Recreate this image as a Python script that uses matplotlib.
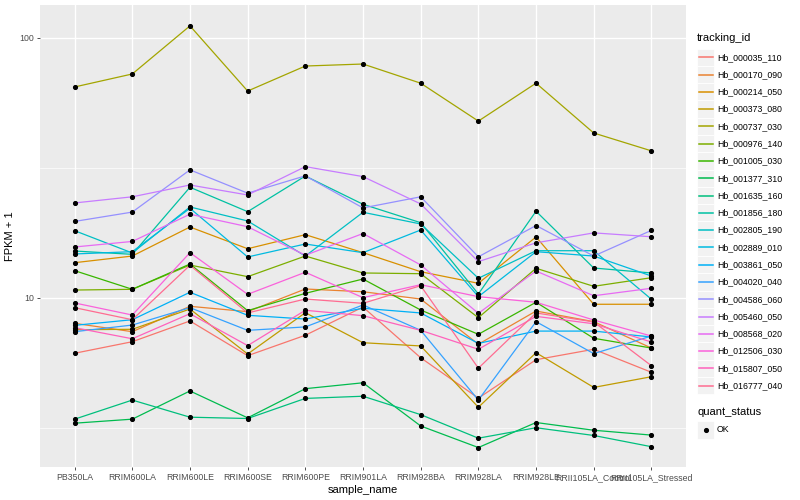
import matplotlib
matplotlib.use("Agg")
import matplotlib.pyplot as plt
from matplotlib.patches import Rectangle
from matplotlib.lines import Line2D
from matplotlib.ticker import NullFormatter

plt.rcParams['font.family'] = ['Liberation Sans', 'DejaVu Sans']

# categories on the x axis
samples = ["PB350LA", "RRIM600LA", "RRIM600LE", "RRIM600SE", "RRIM600PE",
           "RRIM901LA", "RRIM928BA", "RRIM928LA", "RRIM928LE",
           "RRII105LA_Control", "RRII105LA_Stressed"]

tracking_ids = ["Hb_000035_110", "Hb_000170_090", "Hb_000214_050", "Hb_000373_080",
                "Hb_000737_030", "Hb_000976_140", "Hb_001005_030", "Hb_001377_310",
                "Hb_001635_160", "Hb_001856_180", "Hb_002805_190", "Hb_002889_010",
                "Hb_003861_050", "Hb_004020_040", "Hb_004586_060", "Hb_005460_050",
                "Hb_008568_020", "Hb_012506_030", "Hb_015807_050", "Hb_016777_040"]

# ggplot hue palette, 20 levels
hue_colors = ["#F8766D", "#EA8331", "#D89000", "#C09B00", "#A3A500", "#7CAE00",
              "#39B600", "#00BB4E", "#00BF7D", "#00C1A3", "#00BFC4", "#00BAE0",
              "#00B0F6", "#35A2FF", "#9590FF", "#C77CFF", "#E76BF3", "#FA62DB",
              "#FF62BC", "#FF6C91"]

# FPKM + 1 per gene, one value per sample
hb_000035_110 = [6.13, 6.79, 8.16, 6.00, 7.19, 9.23, 5.89, 4.12, 5.79, 6.35, 5.18]
hb_000170_090 = [7.99, 7.42, 9.29, 8.86, 10.83, 10.57, 9.91, 6.64, 8.91, 8.11, 6.42]
hb_000214_050 = [13.67, 14.5, 18.75, 15.47, 17.52, 14.94, 12.62, 11.39, 17.17, 9.46, 9.46]
hb_000373_080 = [7.55, 7.58, 9.07, 6.09, 8.78, 6.73, 6.54, 3.80, 6.16, 4.53, 4.98]
hb_000737_030 = [64.8, 72.7, 111.3, 62.5, 78.0, 79.4, 67.0, 47.9, 67.0, 43.1, 36.8]
hb_000976_140 = [10.73, 10.80, 13.39, 12.08, 14.5, 12.48, 12.40, 8.40, 13.01, 11.09, 11.97]
hb_001005_030 = [12.74, 10.80, 13.51, 8.94, 10.42, 11.83, 8.99, 7.25, 9.63, 7.00, 6.42]
hb_001377_310 = [3.30, 3.42, 4.39, 3.46, 4.48, 4.72, 3.22, 2.66, 3.32, 3.10, 2.97]
hb_001635_160 = [3.42, 4.05, 3.48, 3.44, 4.11, 4.19, 3.56, 2.89, 3.17, 2.96, 2.68]
hb_001856_180 = [15.16, 14.72, 26.66, 21.48, 29.45, 22.93, 19.48, 10.36, 21.56, 13.04, 12.48]
hb_002805_190 = [18.15, 14.90, 22.39, 19.78, 14.50, 21.36, 19.26, 11.91, 15.20, 15.20, 9.89]
hb_002889_010 = [14.77, 15.07, 22.13, 14.38, 16.13, 14.94, 18.26, 10.12, 15.07, 14.50, 12.15]
hb_003861_050 = [7.85, 8.25, 10.52, 8.58, 8.30, 9.13, 8.76, 6.69, 7.46, 7.46, 7.08]
hb_004020_040 = [7.42, 7.87, 9.18, 7.51, 7.74, 9.40, 7.51, 4.05, 8.11, 6.11, 7.14]
hb_004586_060 = [19.7, 21.4, 31.1, 25.3, 29.5, 22.2, 24.5, 14.4, 19.0, 14.5, 18.2]
hb_005460_050 = [23.2, 24.5, 27.2, 24.9, 32.0, 29.3, 23.0, 13.8, 16.3, 17.8, 17.2]
hb_008568_020 = [15.71, 16.5, 21.0, 18.8, 14.6, 17.7, 13.4, 8.73, 12.7, 10.2, 10.9]
hb_012506_030 = [9.57, 8.60, 14.94, 10.33, 12.56, 10.03, 11.25, 10.12, 9.63, 8.23, 7.14]
hb_015807_050 = [7.69, 6.97, 8.70, 6.56, 8.97, 8.55, 7.51, 6.35, 8.50, 7.96, 6.77]
hb_016777_040 = [9.18, 8.25, 13.36, 8.76, 9.91, 9.54, 11.15, 5.37, 8.76, 8.09, 5.49]

series = [hb_000035_110, hb_000170_090, hb_000214_050, hb_000373_080, hb_000737_030,
          hb_000976_140, hb_001005_030, hb_001377_310, hb_001635_160, hb_001856_180,
          hb_002805_190, hb_002889_010, hb_003861_050, hb_004020_040, hb_004586_060,
          hb_005460_050, hb_008568_020, hb_012506_030, hb_015807_050, hb_016777_040]

W, H = 800, 500
fig = plt.figure(figsize=(8, 5), dpi=100)
ax = fig.add_axes([40 / W, 1 - 467 / H, 646 / W, 462 / H])
ax.set_facecolor("#EBEBEB")
for s in ax.spines.values():
    s.set_visible(False)

x = list(range(len(samples)))
ax.set_yscale("log")
ax.set_ylim(2.239, 133.9)
ax.set_xlim(-0.6, len(samples) - 0.4)

# grid
for yv in [10, 100]:
    ax.axhline(yv, color="white", lw=1.0, zorder=0)
for yv in [10 ** 0.5, 10 ** 1.5]:
    ax.axhline(yv, color="white", lw=0.5, zorder=0)
for xv in x:
    ax.axvline(xv, color="white", lw=1.0, zorder=0)

for vals, col in zip(series, hue_colors):
    ax.plot(x, vals, color=col, lw=0.9, zorder=2)
for vals in series:
    ax.plot(x, vals, "o", color="black", ms=2.7, zorder=3)

ax.set_yticks([10, 100])
ax.set_yticklabels(["10", "100"])
ax.yaxis.set_minor_formatter(NullFormatter())
ax.tick_params(axis="y", which="minor", length=0)
ax.set_xticks(x)
ax.set_xticklabels(samples)
ax.tick_params(axis="both", which="major", length=2.5, width=0.6, color="#333333",
               labelcolor="#4D4D4D", labelsize=6.3, pad=2)
ax.set_xlabel("sample_name", fontsize=8, labelpad=2)
ax.set_ylabel("FPKM + 1", fontsize=8, labelpad=3)

# legends drawn in figure pixel space
def fx(px):
    return px / W

def fy(py):
    return 1 - py / H

fig.text(fx(697), fy(38), "tracking_id", fontsize=8, va="center", ha="left")
step = 17.28
for i, (name, col) in enumerate(zip(tracking_ids, hue_colors)):
    cy = 57.3 + i * step
    fig.add_artist(Rectangle((fx(697), fy(cy + step / 2)), 17.28 / W, step / H,
                             transform=fig.transFigure, facecolor="#F2F2F2",
                             edgecolor="white", lw=0.6))
    fig.add_artist(Line2D([fx(699), fx(712.5)], [fy(cy), fy(cy)],
                          transform=fig.transFigure, color=col, lw=1.1))
    fig.text(fx(717), fy(cy), name, fontsize=6.3, va="center", ha="left")

fig.text(fx(697), fy(412), "quant_status", fontsize=8, va="center", ha="left")
fig.add_artist(Rectangle((fx(697), fy(430 + step / 2)), 17.28 / W, step / H,
                         transform=fig.transFigure, facecolor="#F2F2F2",
                         edgecolor="white", lw=0.6))
fig.add_artist(Line2D([fx(705.6)], [fy(430)], transform=fig.transFigure,
                      marker="o", color="black", ms=2.7, lw=0))
fig.text(fx(717), fy(430), "OK", fontsize=6.3, va="center", ha="left")

fig.savefig("out.png", dpi=100)
